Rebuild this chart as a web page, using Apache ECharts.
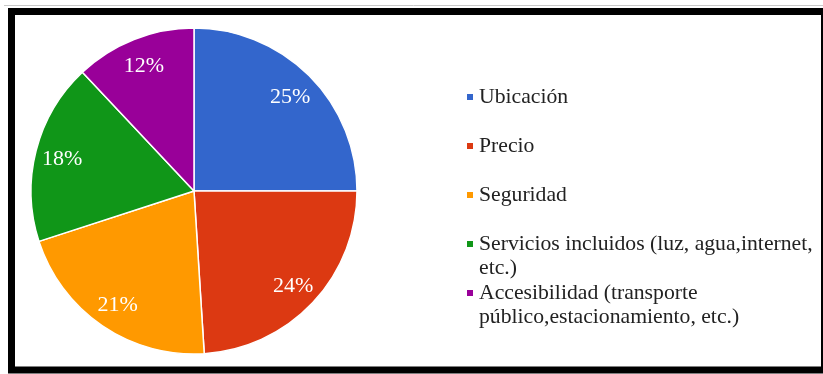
<!DOCTYPE html>
<html>
<head>
<meta charset="utf-8">
<script src="https://cdn.jsdelivr.net/npm/echarts@6/dist/echarts.min.js"></script>
<style>
  html, body { margin: 0; padding: 0; background: #fff; }
  #chart { width: 823px; height: 374px; }
</style>
</head>
<body>
<div id="chart"></div>
<script>
// Factores considerados al elegir vivienda (porcentaje de respuestas)
const categories = [
  'Ubicación',
  'Precio',
  'Seguridad',
  'Servicios incluidos (luz, agua,internet, etc.)',
  'Accesibilidad (transporte público,estacionamiento, etc.)'
];
const values = [25, 24, 21, 18, 12];
const colors = ['#3366CC', '#DC3912', '#FF9900', '#109618', '#990099'];
// Legend text split into the lines it wraps onto
const legendFirstLines = [
  'Ubicación',
  'Precio',
  'Seguridad',
  'Servicios incluidos (luz, agua,internet,',
  'Accesibilidad (transporte'
];
const legendSecondLines = [null, null, null, 'etc.)', 'público,estacionamiento, etc.)'];

const serif = '"Liberation Serif", "Times New Roman", serif';
const pieData = categories.map((name, i) => ({ name: name, value: values[i], itemStyle: { color: colors[i] } }));
const wrapped = categories.filter((_, i) => legendSecondLines[i]);

const center = [194, 191];
const outer = 163;

const legendText = { fontFamily: serif, fontSize: 21.7, color: '#222', lineHeight: 24 };

const chart = echarts.init(document.getElementById('chart'), null, { renderer: 'canvas' });
chart.setOption({
  animation: false,
  backgroundColor: '#fff',
  color: colors,
  legend: [
    {
      orient: 'vertical',
      left: 465, top: 85,
      padding: 0,
      itemWidth: 8, itemHeight: 8, itemGap: 25,
      icon: 'rect',
      selectedMode: false,
      data: categories,
      formatter: name => legendFirstLines[categories.indexOf(name)],
      textStyle: legendText
    },
    {
      orient: 'vertical',
      left: 465, top: 256,
      padding: 0,
      itemWidth: 8, itemHeight: 8, itemGap: 25,
      icon: 'rect',
      itemStyle: { opacity: 0 },
      selectedMode: false,
      data: wrapped,
      formatter: name => legendSecondLines[categories.indexOf(name)],
      textStyle: legendText
    }
  ],
  series: [
    {
      type: 'pie',
      center: center,
      radius: [0, outer],
      startAngle: 90,
      clockwise: true,
      silent: true,
      data: pieData,
      itemStyle: { borderColor: '#fff', borderWidth: 1.5 },
      label: { show: false },
      labelLine: { show: false }
    },
    {
      // transparent ring carrying the percentage labels further out
      type: 'pie',
      center: center,
      radius: [103, outer],
      startAngle: 90,
      clockwise: true,
      silent: true,
      data: pieData.map(d => ({ name: d.name, value: d.value })),
      itemStyle: { color: 'rgba(0,0,0,0)', borderWidth: 0 },
      label: {
        show: true,
        position: 'inside',
        formatter: p => p.value + '%',
        fontFamily: serif,
        fontSize: 22,
        color: '#fff',
        offset: [0, 2]
      },
      labelLine: { show: false }
    }
  ],
  graphic: [
    {
      type: 'line',
      silent: true,
      shape: { x1: 4, y1: 5.5, x2: 823, y2: 5.5 },
      style: { stroke: '#c8c8c8', lineWidth: 1 }
    },
    {
      type: 'rect',
      silent: true,
      shape: { x: 11.5, y: 11.5, width: 813, height: 358.5 },
      style: { fill: null, stroke: '#000', lineWidth: 7 }
    }
  ]
});
</script>
</body>
</html>
